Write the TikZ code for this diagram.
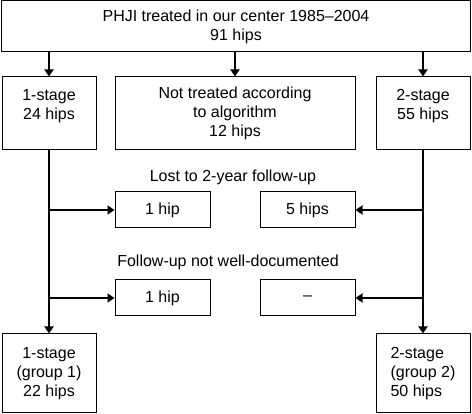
\documentclass[tikz,border=0pt]{standalone}
\usepackage{fontspec}
\setmainfont{Liberation Sans}
\usetikzlibrary{arrows.meta}
\begin{document}
\begin{tikzpicture}[x=1pt,y=-1pt,
  box/.style={draw, line width=1pt, inner sep=0pt, align=center, font=\fontsize{16}{19}\selectfont},
  lbl/.style={inner sep=0pt, font=\fontsize{16}{19}\selectfont},
  arr/.style={line width=2pt, -{Triangle[length=7pt,width=9pt]}}]
\useasboundingbox (0,0) rectangle (472,414);
\node[box, minimum width=469pt, minimum height=51pt] (top) at (236,26.5) {PHJI treated in our center 1985–2004\\91 hips};
\node[box, minimum width=94pt, minimum height=73pt] (l1) at (49,113.5) {1-stage\\24 hips\\~};
\node[box, minimum width=240pt, minimum height=73pt] (mid) at (235,113.5) {Not treated according\\to algorithm\\12 hips};
\node[box, minimum width=94pt, minimum height=73pt] (r1) at (423,113.5) {2-stage\\55 hips\\~};
\node[lbl] (lab1) at (233,177) {Lost to 2-year follow-up};
\node[box, minimum width=95pt, minimum height=36pt] (a1) at (162.5,210) {1 hip};
\node[box, minimum width=95pt, minimum height=36pt] (b1) at (307.5,210) {5 hips};
\node[lbl] (lab2) at (228,262) {Follow-up not well-documented};
\node[box, minimum width=95pt, minimum height=36pt] (a2) at (162.5,298) {1 hip};
\node[box, minimum width=95pt, minimum height=36pt] (b2) at (307.5,298) {–};
\node[box, minimum width=94pt, minimum height=79pt] (l2) at (49,373.5) {1-stage\\(group 1)\\22 hips};
\node[box, minimum width=94pt, minimum height=79pt, align=left] (r2) at (423,373.5) {2-stage\\(group 2)\\50 hips};
\draw[arr] (top.south -| l1) -- (l1.north);
\draw[arr] (top.south -| mid) -- (mid.north);
\draw[arr] (top.south -| r1) -- (r1.north);
\draw[arr] (l1.south) -- (l2.north);
\draw[arr] (r1.south) -- (r2.north);
\draw[arr] (a1 -| l1) -- (a1.west);
\draw[arr] (a2 -| l1) -- (a2.west);
\draw[arr] (b1 -| r1) -- (b1.east);
\draw[arr] (b2 -| r1) -- (b2.east);
\end{tikzpicture}
\end{document}
